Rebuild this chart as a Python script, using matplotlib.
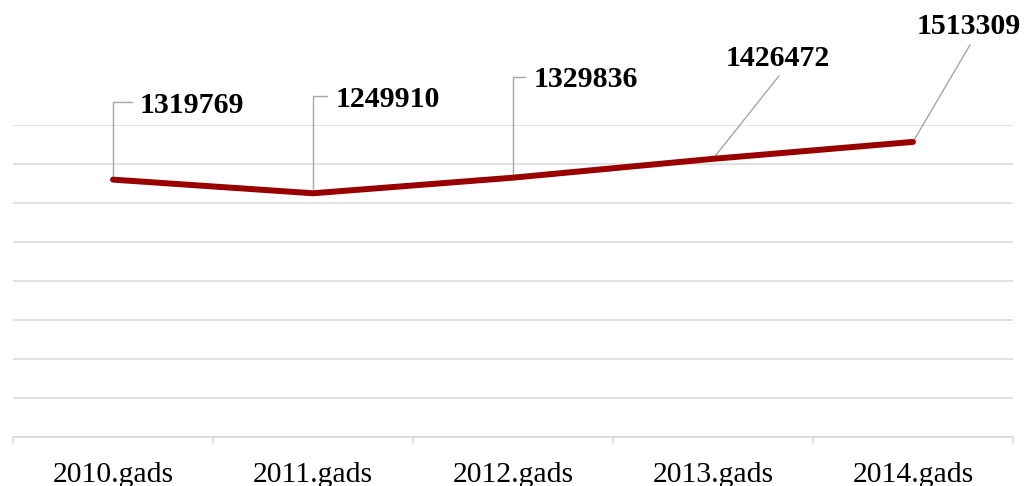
import matplotlib
matplotlib.use("Agg")
import matplotlib.pyplot as plt
from matplotlib.ticker import MultipleLocator, FixedLocator, NullFormatter, FixedFormatter

categories = ['2010.gads', '2011.gads', '2012.gads', '2013.gads', '2014.gads']
values = [1319769, 1249910, 1329836, 1426472, 1513309]

# label layout (offset pixels from the data point)
text_offsets = [(27, 67), (23, 86), (21, 91), (65, 93), (56, 108)]
text_ha = ['left', 'left', 'left', 'center', 'center']
leader_ends = [(19, 78), (14, 97), (12, 101), (66, 83), (57, 97)]
leader_elbow = [True, True, True, False, False]

plt.rcParams['font.family'] = ['Liberation Serif', 'DejaVu Serif']

fig = plt.figure(figsize=(10.24, 4.86), dpi=100)
ax = fig.add_axes([13/1024, 49/486, 1000/1024, 312/486])

x = list(range(len(categories)))
ax.plot(x, values, color='#990000', lw=4.3, solid_capstyle='round',
        solid_joinstyle='round', zorder=3)

ax.set_xlim(-0.5, len(categories) - 0.5)
ax.set_ylim(0, 1600000)
ax.yaxis.set_major_locator(MultipleLocator(200000))
ax.grid(axis='y', color='#d9d9d9', lw=1.1, zorder=0)
ax.tick_params(axis='y', left=False, labelleft=False)

ax.xaxis.set_major_locator(FixedLocator([i - 0.5 for i in range(len(categories) + 1)]))
ax.xaxis.set_major_formatter(NullFormatter())
ax.xaxis.set_minor_locator(FixedLocator(x))
ax.xaxis.set_minor_formatter(FixedFormatter(categories))
ax.tick_params(axis='x', which='major', length=5, width=1.1, color='#d9d9d9')
ax.tick_params(axis='x', which='minor', length=0, pad=18, labelsize=21.3,
               labelcolor='black')

for s in ['top', 'left', 'right']:
    ax.spines[s].set_visible(False)
ax.spines['bottom'].set_color('#d9d9d9')
ax.spines['bottom'].set_linewidth(1.1)

for i, v in enumerate(values):
    cs = 'angle,angleA=0,angleB=90,rad=0' if leader_elbow[i] else 'arc3,rad=0'
    ax.annotate('', xy=(i, v), xytext=leader_ends[i], textcoords='offset pixels',
                arrowprops=dict(arrowstyle='-', color='#a6a6a6', lw=1.0,
                                shrinkA=0, shrinkB=0, connectionstyle=cs),
                annotation_clip=False, zorder=2)
    ax.annotate(str(v), xy=(i, v), xytext=text_offsets[i], textcoords='offset pixels',
                ha=text_ha[i], va='baseline', fontsize=21.5, fontweight='bold',
                color='black', annotation_clip=False, zorder=4)

fig.savefig('out.png', dpi=100)
